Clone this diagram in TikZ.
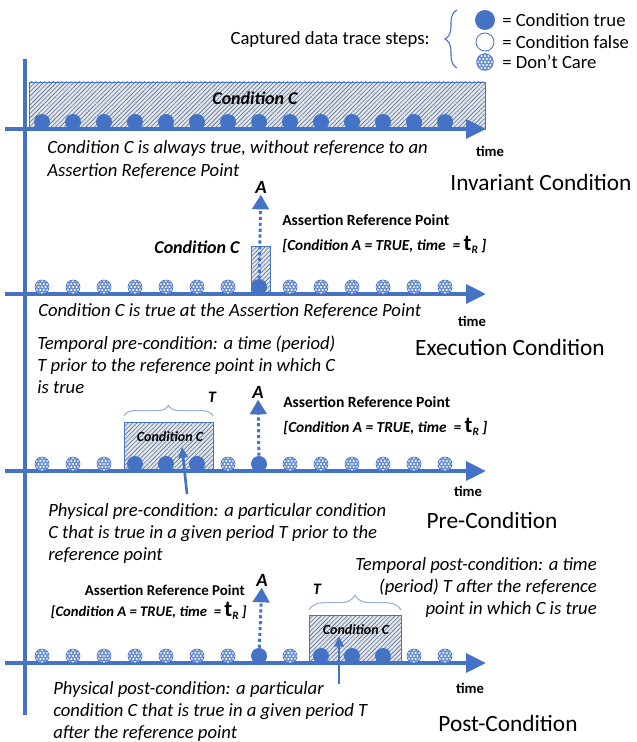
\documentclass[tikz,border=0pt]{standalone}
\usepackage{fontspec}
\setmainfont{Carlito}
\usetikzlibrary{arrows.meta,decorations.pathreplacing,patterns.meta}
\definecolor{cblue}{RGB}{68,114,196}
\definecolor{hatchbg}{RGB}{224,229,238}
\definecolor{hatchln}{RGB}{95,110,135}
\definecolor{bracecol}{RGB}{150,175,215}
\newcommand{\tR}{{\fontsize{17}{17}\selectfont\upshape t}\raisebox{-2.5pt}{\fontsize{8.5}{8.5}\selectfont R}}
\tikzset{
  timeaxis/.style={cblue, line width=3pt, -{Triangle[length=15pt,width=14pt]}},
  tdot/.style={circle, fill=cblue, inner sep=0pt, minimum size=12pt},
  fdot/.style={circle, draw=cblue, fill=white, line width=0.6pt, inner sep=0pt, minimum size=13.5pt},
  dcdot/.style={circle, draw=cblue, line width=0.5pt, fill=cblue!80, inner sep=0pt, minimum size=10.5pt,
    path picture={\foreach \i in {-3,...,3}\foreach \j in {-3,...,3}
      \fill[white] ([xshift={\i*2.6pt+\j*1.3pt},yshift={\j*2.25pt}]path picture bounding box.center) circle (0.8pt);}},
  hatched/.style={draw=cblue, line width=0.6pt, preaction={fill=hatchbg},
    pattern={Lines[angle=45,distance=2.3pt,line width=0.45pt]}, pattern color=hatchln},
  refarrow/.style={cblue, line width=2.2pt, dash pattern=on 2.4pt off 2pt, -{Triangle[length=11pt,width=12.5pt]}},
  physarrow/.style={cblue, line width=2pt, -{Triangle[length=8pt,width=7pt]}},
  tbrace/.style={bracecol, line width=0.8pt, decorate},
  note/.style={font=\itshape\fontsize{14}{16.5}\selectfont, inner sep=0pt},
  title/.style={font=\fontsize{17.5}{20}\selectfont},
  timelbl/.style={font=\bfseries\fontsize{11}{12}\selectfont},
  refbold/.style={font=\bfseries\fontsize{11.7}{13}\selectfont, inner sep=0pt},
  refbrack/.style={font=\bfseries\itshape\fontsize{11.5}{13}\selectfont, inner sep=0pt},
  condbig/.style={font=\bfseries\itshape\fontsize{13.5}{15}\selectfont},
  condsmall/.style={font=\bfseries\itshape\fontsize{10.5}{12}\selectfont},
  alabel/.style={font=\bfseries\itshape\fontsize{14}{15}\selectfont, inner sep=1pt},
  legtext/.style={font=\fontsize{14}{16}\selectfont, anchor=west, inner sep=0pt}
}
\begin{document}
\begin{tikzpicture}[x=0.75pt, y=-0.75pt]
\useasboundingbox (0,0) rectangle (636,742);
% legend
\node[legtext, anchor=east] (legtitle) at (430,40) {Captured data trace steps:};
\draw[cblue, line width=0.8pt, decorate, decoration={brace, amplitude=9pt}] (457,68) -- (457,10);
\node[tdot, minimum size=15pt] (legtrue) at (485,20) {};
\node[fdot] (legfalse) at (485,42) {};
\node[dcdot, minimum size=12.5pt] (legdc) at (485,62) {};
\node[legtext] at (502,20) {= Condition true};
\node[legtext] at (502,42) {= Condition false};
\node[legtext] at (502,62) {= Don’t Care};
\draw[cblue, line width=3pt] (25,59) -- (25,715);

% invariant condition
\draw[hatched] (29,82) rectangle (485,129);
\node[condbig] (invC) at (255,98) {Condition C};
\coordinate (inv0) at (5,129); \coordinate (inv1) at (486,129);
\draw[timeaxis] (inv0) -- (inv1);
\foreach \k in {0,...,13}
  \node[tdot] (i\k) at ({42+31*\k},122) {};
\node[note, anchor=north west, align=left, font=\itshape\fontsize{14}{17.5}\selectfont] (invnote) at (47,140)
  {Condition C is always true, without reference to an\\Assertion Reference Point};
\node[timelbl] (invtime) at (490,151) {time};
\node[title] (invtitle) at (541,182) {Invariant Condition};

% execution condition
\draw[hatched] (251,246) rectangle (270,294);
\node[condbig] (exeC) at (197,247) {Condition C};
\coordinate (exe0) at (5,294); \coordinate (exe1) at (486,294);
\draw[timeaxis] (exe0) -- (exe1);
\foreach \k in {0,...,6,8,9,...,13}
  \node[dcdot] (e\k) at ({42+31*\k},287) {};
\node[tdot] (e7) at (259,287) {};
\node[alabel] (exeA) at (261,187) {A};
\draw[refarrow] (e7) -- (exeA);
\node[refbold, anchor=west] (exeref) at (282,220) {Assertion Reference Point};
\node[refbrack, anchor=west] (exebr) at (282,245) {[Condition A = TRUE, time \ = \tR\ ]};
\node[note, anchor=north west, align=left] (exenote) at (38,303)
  {Condition C is true at the Assertion Reference Point};
\node[timelbl] (exetime) at (472,321) {time};
\node[title] (exetitle) at (510,347) {Execution Condition};

% pre-condition
\node[note, anchor=north west, align=left] (pretemp) at (37,336)
  {Temporal pre-condition: a time (period)\\T prior to the reference point in which C\\is true};
\draw[hatched] (124,422) rectangle (213,471);
\node[condsmall] (preC) at (170,437) {Condition C};
\draw[tbrace, decoration={brace, amplitude=8pt}] (124,416) -- (213,416);
\node[alabel, font=\bfseries\itshape\fontsize{12}{13}\selectfont] (preT) at (212,397) {T};
\coordinate (pre0) at (5,471); \coordinate (pre1) at (486,471);
\draw[timeaxis] (pre0) -- (pre1);
\foreach \k in {0,1,2,6,8,9,...,13}
  \node[dcdot] (p\k) at ({42+31*\k},464) {};
\foreach \k in {3,4,5,7}
  \node[tdot] (p\k) at ({42+31*\k},464) {};
\node[alabel] (preA) at (258,392) {A};
\draw[refarrow] (p7) -- (preA);
\node[refbold, anchor=west] (preref) at (283,402) {Assertion Reference Point};
\node[refbrack, anchor=west] (prebr) at (283,427) {[Condition A = TRUE, time \ = \tR\ ]};
\coordinate (prefoot) at (187,494); \coordinate (prehead) at (182,447);
\draw[physarrow] (prefoot) -- (prehead);
\node[timelbl] (pretime) at (468,491) {time};
\node[note, anchor=north west, align=left] (prephys) at (48,503)
  {Physical pre-condition: a particular condition\\C that is true in a given period T prior to the\\reference point};
\node[title] (pretitle) at (492,520) {Pre-Condition};

% post-condition
\node[note, anchor=north east, align=right] (posttemp) at (597,557)
  {Temporal post-condition: a time\\(period) T after the reference\\point in which C is true};
\draw[hatched] (309,615) rectangle (401,663);
\node[condsmall] (postC) at (356,630) {Condition C};
\draw[tbrace, decoration={brace, amplitude=11pt}] (309,610) -- (401,610);
\node[alabel, font=\bfseries\itshape\fontsize{12}{13}\selectfont] (postT) at (317,589) {T};
\coordinate (post0) at (5,663); \coordinate (post1) at (486,663);
\draw[timeaxis] (post0) -- (post1);
\foreach \k in {0,...,6,8,12,13}
  \node[dcdot] (q\k) at ({42+31*\k},656) {};
\foreach \k in {7,9,10,11}
  \node[tdot] (q\k) at ({42+31*\k},656) {};
\node[alabel] (postA) at (262,580) {A};
\draw[refarrow] (q7) -- (postA);
\node[refbold, anchor=east, font=\bfseries\fontsize{11.2}{13}\selectfont] (postref) at (245,590) {Assertion Reference Point};
\node[refbrack, anchor=east, font=\bfseries\itshape\fontsize{11}{13}\selectfont] (postbr) at (247,611) {[Condition A = TRUE, time \ = \tR\ ]};
\coordinate (postfoot) at (339,684); \coordinate (posthead) at (339,636);
\draw[physarrow] (postfoot) -- (posthead);
\node[timelbl] (posttime) at (470,688) {time};
\node[note, anchor=north west, align=left] (postphys) at (53,681)
  {Physical post-condition: a particular\\condition C that is true in a given period T\\after the reference point};
\node[title] (posttitle) at (508,723) {Post-Condition};
\end{tikzpicture}
\end{document}
